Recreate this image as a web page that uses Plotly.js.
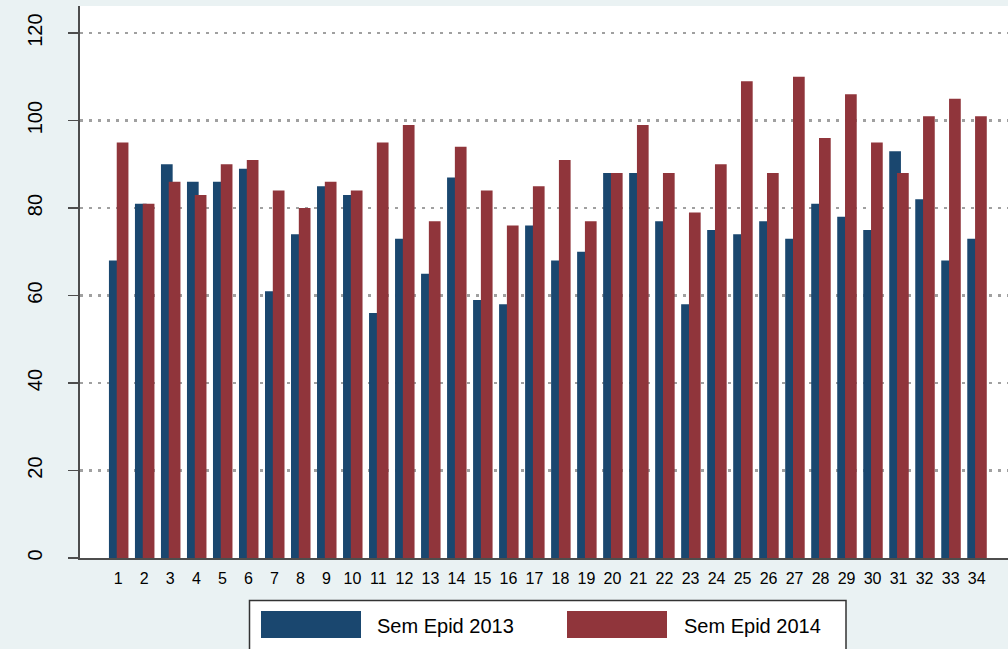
<!DOCTYPE html>
<html>
<head>
<meta charset="utf-8">
<script src="https://cdn.plot.ly/plotly-3.0.1.min.js"></script>
<style>
  html, body { margin: 0; padding: 0; background: #EAF2F3; }
  #chart { width: 1008px; height: 649px; }
</style>
</head>
<body>
<div id="chart"></div>
<script>
const weeks = [1,2,3,4,5,6,7,8,9,10,11,12,13,14,15,16,17,18,19,20,21,22,23,24,25,26,27,28,29,30,31,32,33,34];
const weekLabels = weeks.map(String);
const sem2013 = [68,81,90,86,86,89,61,74,85,83,56,73,65,87,59,58,76,68,70,88,88,77,58,75,74,77,73,81,78,75,93,82,68,73];
const sem2014 = [95,81,86,83,90,91,84,80,86,84,95,99,77,94,84,76,85,91,77,88,99,88,79,90,109,88,110,96,106,95,88,101,105,101];
const seriesNames = ["Sem Epid 2013", "Sem Epid 2014"];
const seriesColors = ["#1A476F", "#90353B"];
const yTicks = [0,20,40,60,80,100,120];

const W = 1008, H = 649;
const mL = 80, mR = 0, mT = 5.5, mB = 91;
const pw = W - mL - mR, ph = H - mT - mB;
const px = v => (v - mL) / pw;
const py = v => (H - mB - v) / ph;

const font = "Liberation Sans, Arial, sans-serif";

const traces = [
  { type: "bar", x: weeks, y: sem2013, name: seriesNames[0],
    width: 0.45, offset: -0.36,
    marker: { color: seriesColors[0], line: { width: 0 } }, showlegend: false },
  { type: "bar", x: weeks, y: sem2014, name: seriesNames[1],
    width: 0.45, offset: -0.06,
    marker: { color: seriesColors[1], line: { width: 0 } }, showlegend: false }
];

// manual legend (box + swatches + labels)
const shapes = [
  { type: "rect", xref: "paper", yref: "paper",
    x0: px(249.5), x1: px(846), y0: py(660), y1: py(600.5),
    line: { color: "#333333", width: 1.5 }, fillcolor: "#ffffff", layer: "above" },
  { type: "rect", xref: "paper", yref: "paper",
    x0: px(261), x1: px(361), y0: py(638), y1: py(611),
    line: { width: 0 }, fillcolor: seriesColors[0], layer: "above" },
  { type: "rect", xref: "paper", yref: "paper",
    x0: px(567), x1: px(667), y0: py(638), y1: py(611),
    line: { width: 0 }, fillcolor: seriesColors[1], layer: "above" }
];
const annotations = [
  { xref: "paper", yref: "paper", x: px(375), y: py(626), xanchor: "left", yanchor: "middle",
    text: seriesNames[0], showarrow: false, font: { family: font, size: 20, color: "#000" } },
  { xref: "paper", yref: "paper", x: px(682), y: py(626), xanchor: "left", yanchor: "middle",
    text: seriesNames[1], showarrow: false, font: { family: font, size: 20, color: "#000" } }
];

const layout = {
  width: W, height: H,
  margin: { l: mL, r: mR, t: mT, b: mB, pad: 0 },
  paper_bgcolor: "#EAF2F3",
  plot_bgcolor: "#ffffff",
  barmode: "overlay",
  showlegend: false,
  font: { family: font, color: "#000" },
  xaxis: {
    range: [-0.4725, 35.206],
    tickvals: weeks, ticktext: weekLabels,
    ticks: "", showgrid: false, zeroline: false,
    showline: true, linecolor: "#4d4d4d", linewidth: 1.5,
    tickfont: { family: font, size: 16, color: "#000" },
    ticklabelstandoff: 5,
    fixedrange: true
  },
  yaxis: {
    range: [0, 126.2],
    tickvals: yTicks, ticktext: yTicks.map(String),
    tickangle: -90,
    ticks: "outside", ticklen: 10, tickwidth: 1.5, tickcolor: "#4d4d4d",
    showline: true, linecolor: "#4d4d4d", linewidth: 2,
    showgrid: true, gridcolor: "#a0a0a0", gridwidth: 2.5, griddash: "3px,6px",
    zeroline: false,
    tickfont: { family: font, size: 20, color: "#000" },
    ticklabelstandoff: 18,
    fixedrange: true
  },
  shapes: shapes,
  annotations: annotations
};

Plotly.newPlot("chart", traces, layout, { displayModeBar: false, staticPlot: true });
</script>
</body>
</html>
